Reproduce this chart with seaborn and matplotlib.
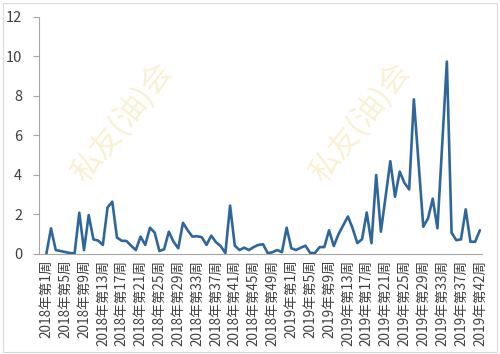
import matplotlib
matplotlib.use("Agg")
import matplotlib.pyplot as plt
import seaborn as sns
import pandas as pd
import numpy as np
from matplotlib.patches import Rectangle

# ---- data ----
weeks_2018 = list(range(1, 53))
weeks_2019 = [w for w in range(1, 43) if w != 40]
categories = [f"2018年第{w}周" for w in weeks_2018] + [f"2019年第{w}周" for w in weeks_2019]

values = [
    0.0, 1.3, 0.2, 0.15, 0.1, 0.05, 0.03, 2.09, 0.2, 1.97,
    0.74, 0.68, 0.46, 2.36, 2.65, 0.83, 0.67, 0.66, 0.42, 0.2,
    0.88, 0.46, 1.33, 1.08, 0.15, 0.24, 1.13, 0.62, 0.29, 1.58,
    1.2, 0.88, 0.9, 0.85, 0.46, 0.93, 0.6, 0.4, 0.05, 2.45,
    0.42, 0.2, 0.32, 0.2, 0.35, 0.46, 0.49, 0.04, 0.09, 0.2,
    0.09, 1.33, 0.29, 0.2, 0.32, 0.42, 0.05, 0.05, 0.35, 0.35,
    1.2, 0.4, 1.0, 1.45, 1.9, 1.3, 0.55, 0.75, 2.1, 0.55,
    4.0, 1.13, 2.9, 4.7, 2.9, 4.17, 3.6, 3.27, 7.83, 4.6,
    1.38, 1.8, 2.8, 1.3, 5.5, 9.74, 1.08, 0.7, 0.74, 2.26,
    0.62, 0.62, 1.2,
]
y_ticks = [0, 2, 4, 6, 8, 10, 12]
label_step = 4

df = pd.DataFrame({"idx": np.arange(len(values)), "week": categories[:len(values)], "value": values})

sns.set_theme(style="white")
plt.rcParams['font.family'] = ['Noto Sans CJK SC', 'DejaVu Sans']

fig = plt.figure(figsize=(5.0, 3.54), dpi=100)
ax = fig.add_axes([0.078, 0.2825, 0.885, 0.6695])

# watermarks
for (wx, wy) in [(0.245, 0.655), (0.72, 0.655)]:
    fig.text(wx, wy, "私友(油)会", fontsize=22, color="#F6EBC0", alpha=0.7,
             rotation=52, ha="center", va="center", zorder=0)

sns.lineplot(data=df, x="idx", y="value", ax=ax, color="#30679A", linewidth=1.9, zorder=3)

ax.set_xlim(-1.55, 92.35)
ax.set_ylim(0, 12)
ax.set_yticks(y_ticks)
ax.set_yticklabels([str(t) for t in y_ticks], fontsize=10.5, color="#404040")

tick_idx = list(range(0, len(values), label_step))
ax.set_xticks(tick_idx)
ax.set_xticklabels([categories[i] for i in tick_idx], rotation=90, fontsize=9.8, color="#404040")
ax.set_xticks(np.arange(len(values)), minor=True)
ax.tick_params(axis="x", which="both", direction="inout", length=4, width=0.8, color="#A6A6A6", pad=2)
ax.tick_params(axis="y", which="major", direction="out", length=4, width=0.8, color="#A6A6A6", pad=8, left=True)

ax.set_xlabel("")
ax.set_ylabel("")
ax.patch.set_alpha(0)
for s in ["top", "right"]:
    ax.spines[s].set_visible(False)
for s in ["left", "bottom"]:
    ax.spines[s].set_color("#A6A6A6")
    ax.spines[s].set_linewidth(0.8)

fig.patches.append(Rectangle((0.006, 0.006), 0.988, 0.985, transform=fig.transFigure,
                             fill=False, edgecolor="#D9D9D9", linewidth=0.8))

fig.savefig("out.png", dpi=100, facecolor="white")
